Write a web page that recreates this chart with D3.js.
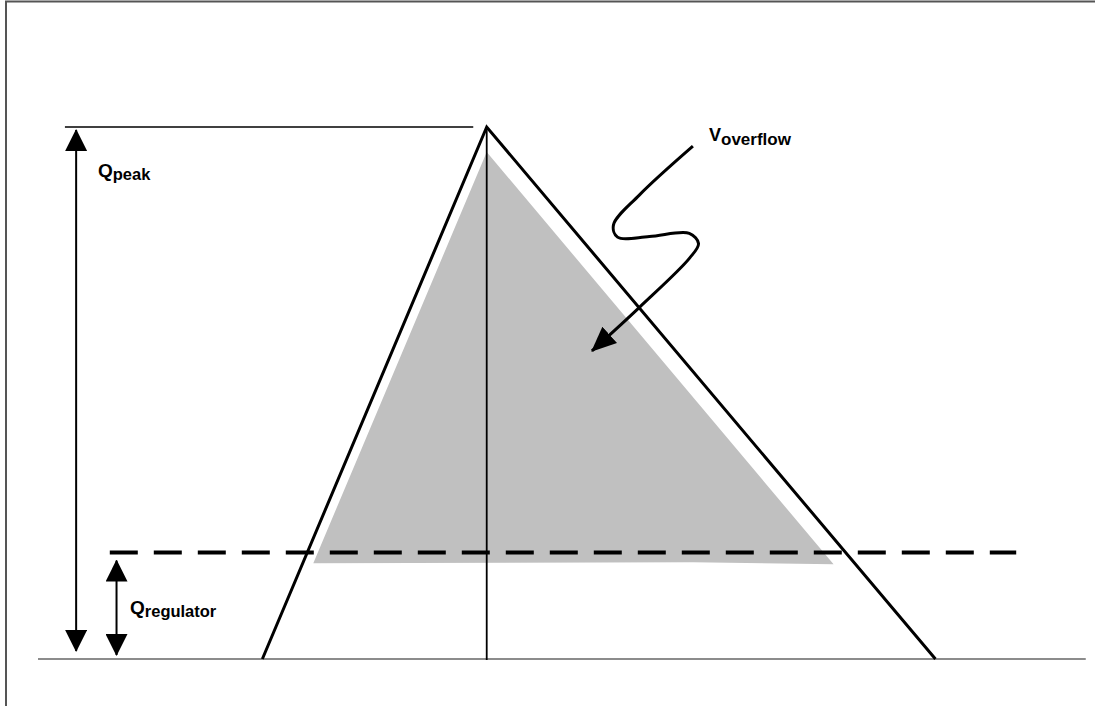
<!DOCTYPE html>
<html>
<head>
<meta charset="utf-8">
<script src="https://cdn.jsdelivr.net/npm/d3@7"></script>
<style>
  html, body { margin: 0; padding: 0; background: #fff; }
  svg { display: block; font-family: "Liberation Sans", Arial, sans-serif; }
</style>
</head>
<body>
<div id="viz"></div>
<script>
// -----------------------------
// DATA (time in units, flow in % of Q peak)
// -----------------------------
const hydroTime = [0, 1, 3];
const hydroFlow = [0, 100, 0];

const Q_PEAK = 100;
const Q_REGULATOR = 20;

// overflow volume (shaded), drawn a little inside the hydrograph
const overflowTime = [0.227, 1.0, 2.546, 1.92];
const overflowFlow = [18, 95.3, 17.8, 18.2];

// extents of the reference lines
const baseExtent = [-1.0, 3.67];
const regExtent = [-0.68, 3.36];
const peakExtent = [-0.88, 0.94];

// dimension arrows
const peakArrowT = -0.83;
const regArrowT = -0.65;

// squiggly pointer to the overflow volume
const pointerTime = [1.919, 1.68, 1.565, 1.583, 1.725, 1.903, 1.944, 1.905, 1.683, 1.469];
const pointerFlow = [96.4, 87.2, 81.6, 79.3, 79.4, 80.0, 78.1, 75.4, 66.2, 57.9];

// -----------------------------
// SETUP
// -----------------------------
const width = 1095, height = 706;

const svg = d3.select("#viz")
  .append("svg")
  .attr("width", width)
  .attr("height", height);

const x = d3.scaleLinear().domain([-1.0, 3.68]).range([38, 1088]);
const y = d3.scaleLinear().domain([0, 100]).range([659, 127]);

const defs = svg.append("defs");
defs.append("marker")
  .attr("id", "head")
  .attr("markerUnits", "userSpaceOnUse")
  .attr("viewBox", "0 -11 22 22")
  .attr("refX", 21).attr("refY", 0)
  .attr("markerWidth", 22).attr("markerHeight", 22)
  .attr("orient", "auto-start-reverse")
  .append("path")
  .attr("d", "M0,-11L22,0L0,11Z")
  .attr("fill", "#000");

defs.append("marker")
  .attr("id", "head2")
  .attr("markerUnits", "userSpaceOnUse")
  .attr("viewBox", "0 -11 25 22")
  .attr("refX", 24).attr("refY", 0)
  .attr("markerWidth", 25).attr("markerHeight", 22)
  .attr("orient", "auto")
  .append("path")
  .attr("d", "M0,-11L25,0L0,11Z")
  .attr("fill", "#000");

// frame
svg.append("rect")
  .attr("x", 6).attr("y", 1.5)
  .attr("width", 1200).attr("height", 800)
  .attr("fill", "none")
  .attr("stroke", "#555")
  .attr("stroke-width", 2);

// -----------------------------
// OVERFLOW AREA
// -----------------------------
const overflowPts = overflowTime.map((t, i) => [x(t), y(overflowFlow[i])]);
svg.append("path")
  .attr("d", d3.line()(overflowPts) + "Z")
  .attr("fill", "#c0c0c0");

// baseline
svg.append("line")
  .attr("x1", x(baseExtent[0])).attr("x2", x(baseExtent[1]))
  .attr("y1", y(0)).attr("y2", y(0))
  .attr("stroke", "#666")
  .attr("stroke-width", 1.5);

// peak level line
svg.append("line")
  .attr("x1", x(peakExtent[0])).attr("x2", x(peakExtent[1]))
  .attr("y1", y(Q_PEAK)).attr("y2", y(Q_PEAK))
  .attr("stroke", "#000")
  .attr("stroke-width", 1.5);

// regulator capacity (dashed)
svg.append("line")
  .attr("x1", x(regExtent[0])).attr("x2", x(regExtent[1]))
  .attr("y1", y(Q_REGULATOR)).attr("y2", y(Q_REGULATOR))
  .attr("stroke", "#000")
  .attr("stroke-width", 4)
  .attr("stroke-dasharray", "28,16");

// vertical line at time of peak
svg.append("line")
  .attr("x1", x(hydroTime[1])).attr("x2", x(hydroTime[1]))
  .attr("y1", y(Q_PEAK)).attr("y2", y(0) + 1)
  .attr("stroke", "#000")
  .attr("stroke-width", 1.8);

// -----------------------------
// HYDROGRAPH
// -----------------------------
const hydroPts = hydroTime.map((t, i) => [x(t), y(hydroFlow[i])]);
svg.append("path")
  .attr("d", d3.line()(hydroPts))
  .attr("fill", "none")
  .attr("stroke", "#000")
  .attr("stroke-width", 3)
  .attr("stroke-linejoin", "miter");

// -----------------------------
// DIMENSION ARROWS
// -----------------------------
svg.append("line")
  .attr("x1", x(peakArrowT)).attr("x2", x(peakArrowT))
  .attr("y1", y(Q_PEAK) + 3).attr("y2", y(0) - 8)
  .attr("stroke", "#000")
  .attr("stroke-width", 2)
  .attr("marker-start", "url(#head)")
  .attr("marker-end", "url(#head)");

svg.append("line")
  .attr("x1", x(regArrowT)).attr("x2", x(regArrowT))
  .attr("y1", y(Q_REGULATOR) + 8).attr("y2", y(0) - 4)
  .attr("stroke", "#000")
  .attr("stroke-width", 2)
  .attr("marker-start", "url(#head)")
  .attr("marker-end", "url(#head)");

// squiggly pointer
const pointerPts = pointerTime.map((t, i) => [x(t), y(pointerFlow[i])]);
svg.append("path")
  .attr("d", d3.line().curve(d3.curveCatmullRom.alpha(0.5))(pointerPts))
  .attr("fill", "none")
  .attr("stroke", "#000")
  .attr("stroke-width", 3)
  .attr("marker-end", "url(#head2)");

// -----------------------------
// LABELS
// -----------------------------
function label(px, py, main, sub, size, subSize, shift) {
  const t = svg.append("text")
    .attr("x", px).attr("y", py)
    .attr("font-weight", "bold")
    .attr("font-size", size)
    .attr("fill", "#000");
  t.append("tspan").text(main);
  t.append("tspan")
    .attr("font-size", subSize)
    .attr("dy", shift)
    .text(sub);
}

label(98, 177, "Q", "peak", 19, 16.5, 3);
label(130, 614, "Q", "regulator", 19, 16.5, 3);
label(709, 141, "V", "overflow", 18, 17, 4);
</script>
</body>
</html>
